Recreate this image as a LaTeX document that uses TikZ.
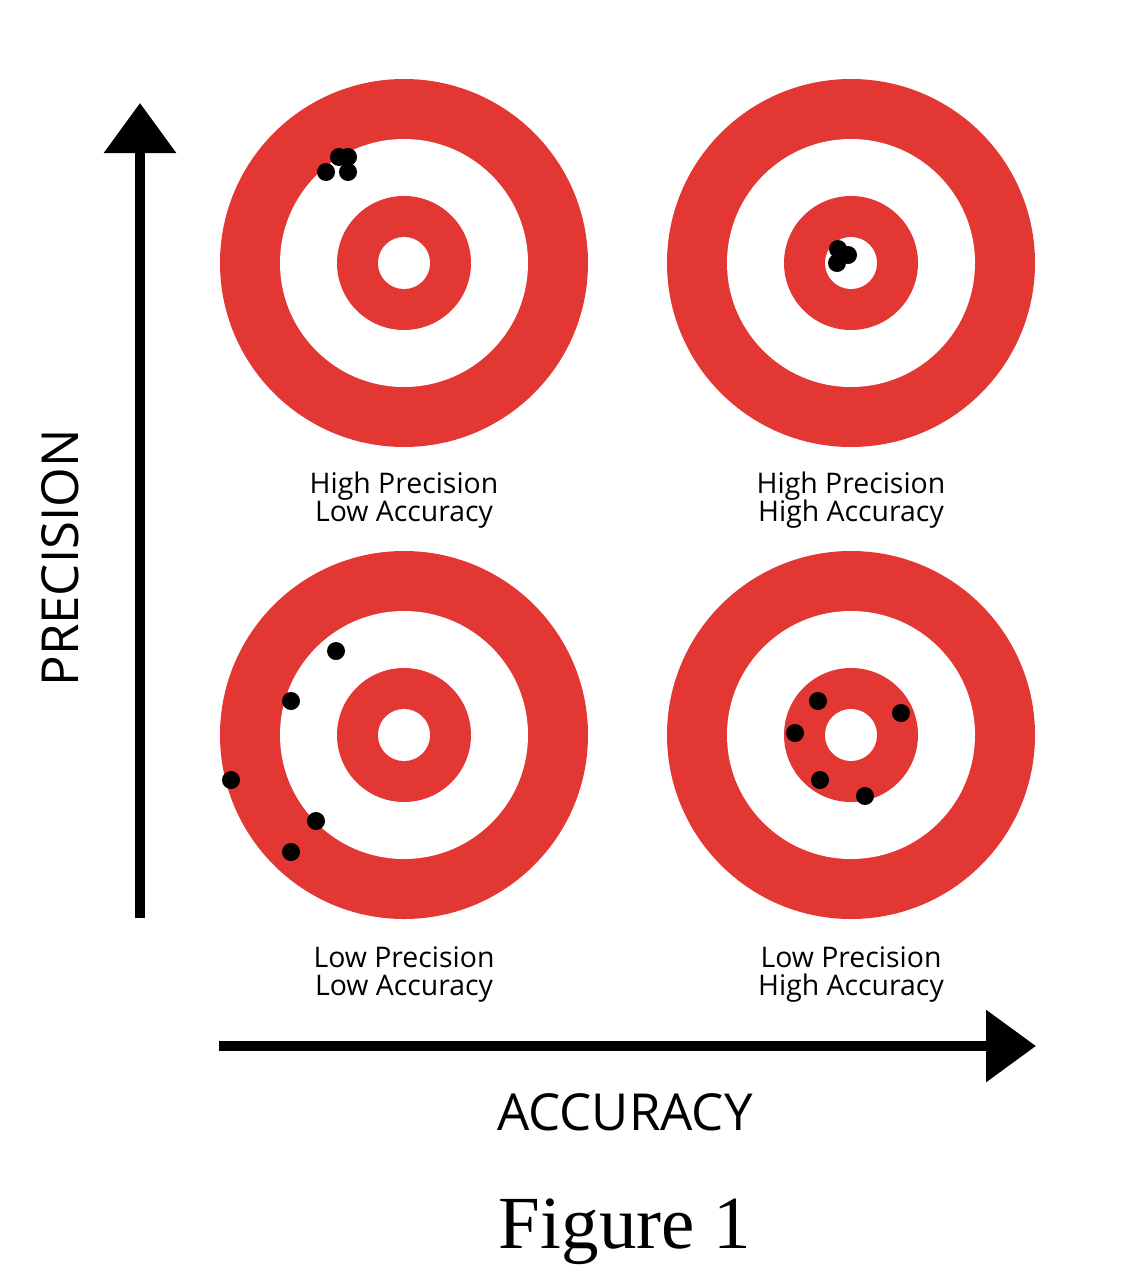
\documentclass[tikz,border=0pt]{standalone}
\usepackage{fontspec}
\setmainfont{Liberation Serif}
\setsansfont{Open Sans}
\usetikzlibrary{arrows.meta, positioning}
\definecolor{targetred}{RGB}{226,55,50}

\begin{document}
\begin{tikzpicture}[x=0.5pt, y=-0.5pt,
		ring/.style={fill=targetred},
		hole/.style={fill=white},
		shot/.style={fill=black},
		scorelabel/.style={font={\sffamily\fontsize{14.2}{14}\selectfont\lineskiplimit=-10pt\relax}, align=center, inner sep=0pt},
		arrowline/.style={line width=5pt, -{Triangle[width=35pt, length=25pt]}},
		axislabel/.style={font=\sffamily\fontsize{25.5}{25.5}\selectfont, inner sep=0pt}]
				\useasboundingbox (0,0) rectangle (1125,1285);
				% target centres
				\coordinate (hpla) at (404,263);
				\coordinate (hpha) at (851,263);
				\coordinate (lpla) at (404,735);
				\coordinate (lpha) at (851,735);
				\foreach \t in {hpla,hpha,lpla,lpha} {
					\fill[ring] (\t) circle (184);
					\fill[hole] (\t) circle (124);
					\fill[ring] (\t) circle (67);
					\fill[hole] (\t) circle (26);
				}
				% shots
				\foreach \p in {(339,157),(348,157),(326,172),(348,172)}
					\fill[shot] \p circle (9);
				\foreach \p in {(838,249),(848,255),(837,263)}
					\fill[shot] \p circle (9);
				\foreach \p in {(336,651),(291,701),(231,780),(316,821),(291,852)}
					\fill[shot] \p circle (9);
				\foreach \p in {(818,701),(901,713),(795,733),(820,780),(865,796)}
					\fill[shot] \p circle (9);
				% labels
				\node[scorelabel] (hplatext) at (404,500) {High Precision\\Low Accuracy};
				\node[scorelabel] (hphatext) at (851,500) {High Precision\\High Accuracy};
				\node[scorelabel] (lplatext) at (404,974) {Low Precision\\Low Accuracy};
				\node[scorelabel] (lphatext) at (851,974) {Low Precision\\High Accuracy};
				% axes
				\coordinate (ystart) at (140,918);
				\coordinate (yend) at (140,103);
				\coordinate (xstart) at (219,1046);
				\coordinate (xend) at (1036,1046);
				\draw[arrowline] (ystart) -- (yend);
				\draw[arrowline] (xstart) -- (xend);
				\node[axislabel, rotate=90] (precision) at (60,558) {PRECISION};
				\node[axislabel] (accuracy) at (625,1112) {ACCURACY};
				\node[font=\rmfamily\fontsize{37.5}{37.5}\selectfont, anchor=base] (figure) at (625,1248) {Figure 1};
			\end{tikzpicture}
\end{document}
